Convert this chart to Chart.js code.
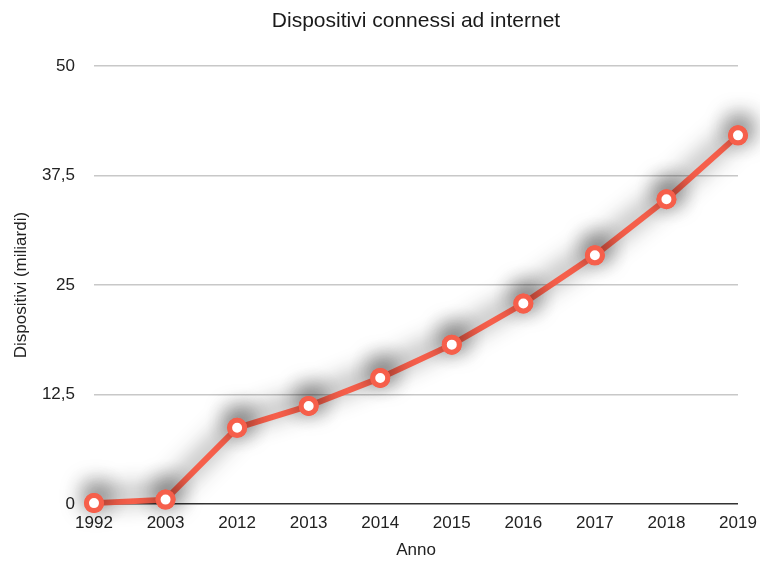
<!DOCTYPE html>
<html>
<head>
<meta charset="utf-8">
<script src="https://cdn.jsdelivr.net/npm/chart.js@4/dist/chart.umd.min.js"></script>
<style>
  html, body { margin: 0; padding: 0; background: #fff; }
  #wrap { width: 760px; height: 561px; }
</style>
</head>
<body>
<div id="wrap"><canvas id="c" width="760" height="561"></canvas></div>
<script>
const years = ['1992', '2003', '2012', '2013', '2014', '2015', '2016', '2017', '2018', '2019'];
const devices = [0.1, 0.5, 8.7, 11.2, 14.4, 18.2, 22.9, 28.4, 34.8, 42.1];
const yTicks = [0, 12.5, 25, 37.5, 50];

const FONT = '"Liberation Sans", Arial, Helvetica, sans-serif';
const LINE = '#f65f4b';

// soft drop shadow behind the series; markers are redrawn on top without it
const shadowPlugin = {
  id: 'lineShadow',
  beforeDatasetDraw(chart) {
    const ctx = chart.ctx;
    ctx.save();
    ctx.shadowColor = 'rgba(0,0,0,0.85)';
    ctx.shadowBlur = 24;
    ctx.shadowOffsetX = 2;
    ctx.shadowOffsetY = -7;
  },
  afterDatasetDraw(chart, args) {
    const ctx = chart.ctx;
    ctx.restore();
    args.meta.data.forEach(pt => pt.draw(ctx, chart.chartArea));
  }
};

new Chart(document.getElementById('c'), {
  type: 'line',
  data: {
    labels: years,
    datasets: [{
      data: devices,
      borderColor: LINE,
      borderWidth: 6,
      backgroundColor: '#ffffff',
      pointBackgroundColor: '#ffffff',
      pointBorderColor: LINE,
      pointBorderWidth: 5,
      pointRadius: 7.5,
      tension: 0,
      fill: false,
      clip: false
    }]
  },
  options: {
    responsive: false,
    animation: false,
    layout: { padding: { left: 11, right: 22, top: 0, bottom: 0 } },
    plugins: {
      legend: { display: false },
      tooltip: { enabled: false },
      title: {
        display: true,
        fullSize: false,
        text: 'Dispositivi connessi ad internet',
        color: '#1a1a1a',
        font: { family: FONT, size: 21, weight: 'normal' },
        padding: { top: 9, bottom: 32 }
      }
    },
    scales: {
      x: {
        offset: false,
        afterFit(scale) {
          scale.height = 57;
          scale.paddingLeft = 0;
          scale.paddingRight = 0;
        },
        grid: { display: false, drawTicks: false },
        border: { display: false },
        ticks: {
          color: '#222',
          font: { family: FONT, size: 17 },
          padding: 9,
          maxRotation: 0,
          autoSkip: false
        },
        title: {
          display: true,
          text: 'Anno',
          color: '#222',
          font: { family: FONT, size: 17 },
          padding: { top: 0, bottom: 0 }
        }
      },
      y: {
        min: 0,
        max: 50,
        afterBuildTicks(scale) {
          scale.ticks = yTicks.map(v => ({ value: v }));
        },
        afterFit(scale) {
          scale.width = 83;
        },
        grid: {
          drawTicks: false,
          lineWidth: 1.5,
          color: ctx => (ctx.tick && ctx.tick.value === 0 ? '#333333' : '#c8c8c8')
        },
        border: { display: false },
        ticks: {
          color: '#222',
          font: { family: FONT, size: 17 },
          padding: 19,
          callback: v => String(v).replace('.', ',')
        },
        title: {
          display: true,
          text: 'Dispositivi (miliardi)',
          color: '#222',
          font: { family: FONT, size: 17 },
          padding: { top: 0, bottom: 0 }
        }
      }
    }
  },
  plugins: [shadowPlugin]
});
</script>
</body>
</html>
